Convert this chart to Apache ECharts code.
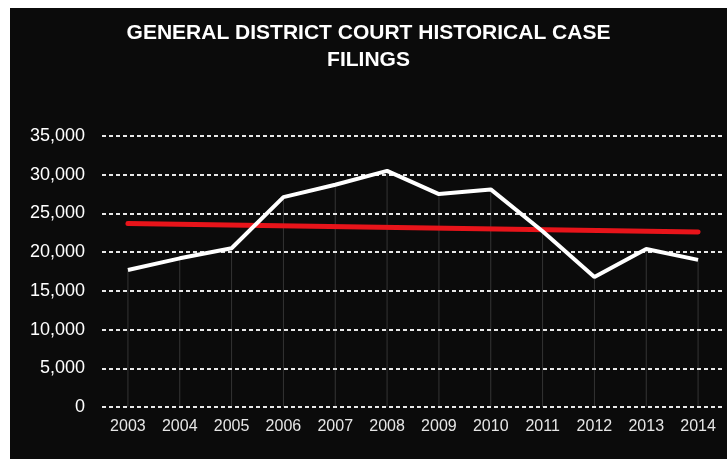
<!DOCTYPE html>
<html><head><meta charset="utf-8">
<script src="https://cdn.jsdelivr.net/npm/echarts@6/dist/echarts.min.js"></script>
<style>
html,body{margin:0;padding:0;background:#fff;width:727px;height:459px;overflow:hidden;}
#c{position:absolute;left:10px;top:8px;width:717px;height:451px;background:#0b0b0b;}
</style></head>
<body><div id="c"></div>
<script>
var years = ['2003','2004','2005','2006','2007','2008','2009','2010','2011','2012','2013','2014'];
var filings = [17700, 19200, 20500, 27100, 28700, 30500, 27500, 28100, 22700, 16800, 20400, 19000];
var trend = [23700, '-', '-', '-', '-', '-', '-', '-', '-', '-', '-', 22600];
var yTicks = [0, 5000, 10000, 15000, 20000, 25000, 30000, 35000];
var title = 'GENERAL DISTRICT COURT HISTORICAL CASE\nFILINGS';

var chart = echarts.init(document.getElementById('c'));
chart.setOption({
  backgroundColor: '#0b0b0b',
  animation: false,
  title: {
    text: title, left: 'center', top: 7,
    textStyle: {color: '#ffffff', fontSize: 21, fontWeight: 'bold', fontFamily: 'Liberation Sans, Arial, sans-serif', lineHeight: 27}
  },
  grid: {left: 92, right: 3, top: 128, bottom: 52},
  xAxis: {
    type: 'category', data: years, boundaryGap: true,
    axisLine: {show: false}, axisTick: {show: false},
    axisLabel: {color: '#e6e6e6', fontSize: 16, margin: 12, fontFamily: 'Liberation Sans, Arial, sans-serif'},
    splitLine: {show: false}
  },
  yAxis: {
    type: 'value', min: yTicks[0], max: yTicks[yTicks.length-1], interval: yTicks[1]-yTicks[0],
    axisLine: {show: false}, axisTick: {show: false},
    axisLabel: {color: '#ffffff', fontSize: 18, margin: 17, fontFamily: 'Liberation Sans, Arial, sans-serif',
      formatter: function(v){ return v.toLocaleString('en-US'); }},
    splitLine: {show: true, lineStyle: {color: '#e8e8e8', width: 2, type: [4, 3]}}
  },
  series: [
    {type: 'bar', data: filings, barWidth: 1, itemStyle: {color: 'rgba(200,200,200,0.22)'}, silent: true, z: 1},
    {type: 'line', data: filings, symbol: 'none', lineStyle: {color: '#ffffff', width: 4}, z: 3},
    {type: 'line', data: trend, connectNulls: true, symbol: 'none', lineStyle: {color: '#e8141a', width: 5, cap: 'round'}, z: 2}
  ]
});
</script></body></html>
